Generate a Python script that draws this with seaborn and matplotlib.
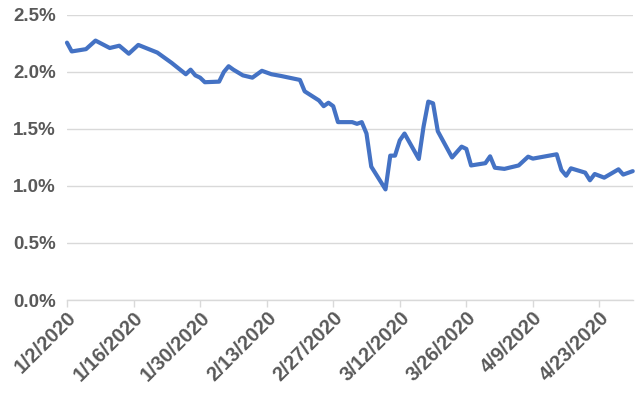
import matplotlib
matplotlib.use("Agg")
import matplotlib.pyplot as plt
from matplotlib.ticker import FuncFormatter, MultipleLocator
import seaborn as sns
import pandas as pd

# Data (day offset from 1/2/2020, yield in %)
day_offsets = [0, 1, 4, 6, 9, 11, 13, 15, 19, 22, 25, 26, 27, 28, 29, 32, 33, 34, 35, 37,
               39, 41, 43, 45, 49, 50, 53, 54, 55, 56, 57, 60, 61, 62, 63, 64, 67, 68, 69, 70,
               71, 74, 75, 76, 77, 78, 81, 83, 84, 85, 88, 89, 90, 92, 95, 97, 98, 103, 104, 105,
               106, 109, 110, 111, 113, 116, 117, 119]
values = [2.257, 2.18, 2.20, 2.275, 2.21, 2.23, 2.16, 2.237, 2.17, 2.08, 1.98, 2.02, 1.97, 1.95, 1.91,
          1.915, 2.00, 2.05, 2.02, 1.97, 1.95, 2.01, 1.98, 1.965, 1.93, 1.83, 1.75, 1.70, 1.73, 1.70,
          1.56, 1.56, 1.545, 1.56, 1.46, 1.17, 0.97, 1.266, 1.266, 1.40, 1.46, 1.237, 1.52, 1.74,
          1.725, 1.48, 1.25, 1.345, 1.325, 1.18, 1.20, 1.26, 1.16, 1.15, 1.18, 1.257, 1.24, 1.278,
          1.14, 1.09, 1.155, 1.117, 1.05, 1.105, 1.073, 1.146, 1.10, 1.13]
tick_labels = ["1/2/2020", "1/16/2020", "1/30/2020", "2/13/2020", "2/27/2020",
               "3/12/2020", "3/26/2020", "4/9/2020", "4/23/2020"]

start = pd.Timestamp("2020-01-02")
dates = [start + pd.Timedelta(days=d) for d in day_offsets]
df = pd.DataFrame({"date": dates, "value": values})

sns.set_theme(style="white")
plt.rcParams['font.family'] = ['Liberation Sans', 'DejaVu Sans']

fig = plt.figure(figsize=(6.44, 3.93), dpi=100)
ax = fig.add_axes([0.104, 0.2366, 0.8785, 0.7254])

sns.lineplot(data=df, x="date", y="value", ax=ax, color="#4472C4", linewidth=3.0)
for l in ax.lines:
    l.set_clip_on(False)
    l.set_solid_joinstyle("round")

ax.set_ylim(0, 2.5)
ax.set_xlim(start, start + pd.Timedelta(days=119))
ax.yaxis.set_major_locator(MultipleLocator(0.5))
ax.yaxis.set_major_formatter(FuncFormatter(lambda v, p: f"{v:.1f}%"))
ax.grid(axis="y", color="#D9D9D9", linewidth=1)
ax.set_axisbelow(True)

tick_dates = [pd.Timestamp(f"{t.split('/')[2]}-{t.split('/')[0]}-{t.split('/')[1]}") for t in tick_labels]
ax.set_xticks(tick_dates)
ax.set_xticklabels(tick_labels, rotation=45, ha="right", rotation_mode="anchor")

for s in ["left", "right", "top"]:
    ax.spines[s].set_visible(False)
ax.spines["bottom"].set_color("#D9D9D9")
ax.spines["bottom"].set_linewidth(1)

ax.tick_params(axis="x", which="major", direction="out", length=5, width=1, color="#D9D9D9",
               labelsize=14.5, labelcolor="#595959", pad=1, bottom=True)
ax.tick_params(axis="y", length=0, labelsize=13.5, labelcolor="#595959", pad=8)
for lbl in ax.get_xticklabels() + ax.get_yticklabels():
    lbl.set_fontweight("bold")

ax.set_xlabel("")
ax.set_ylabel("")

fig.savefig("out.png", dpi=100)
